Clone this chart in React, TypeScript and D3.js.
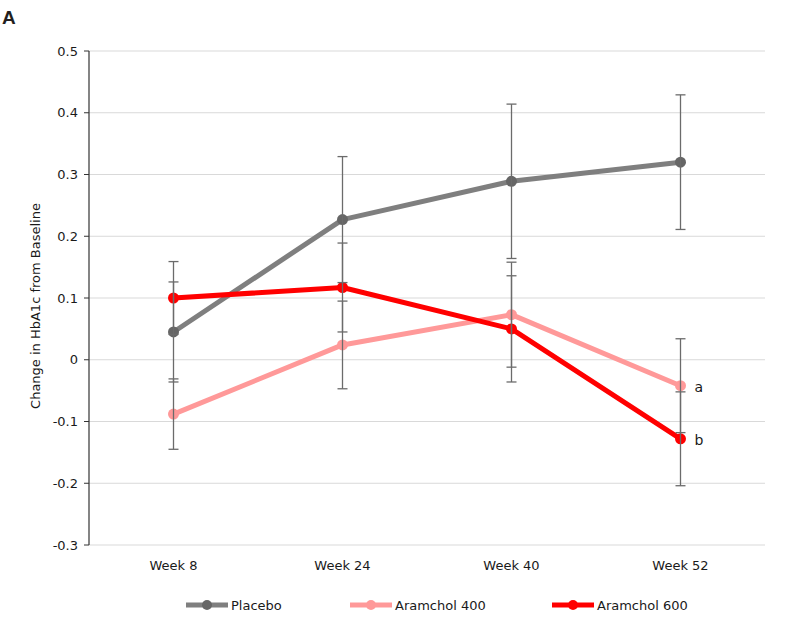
import React from "react";
import * as d3 from "d3";

const weeks = ["Week 8", "Week 24", "Week 40", "Week 52"];
const yTicks = [0.5, 0.4, 0.3, 0.2, 0.1, 0, -0.1, -0.2, -0.3];

const placebo = [0.045, 0.227, 0.289, 0.32];
const placeboErr = [0.081, 0.102, 0.125, 0.109];
const aram400 = [-0.088, 0.024, 0.073, -0.042];
const aram400Err = [0.057, 0.071, 0.085, 0.076];
const aram600 = [0.1, 0.117, 0.05, -0.128];
const aram600Err = [0.059, 0.072, 0.086, 0.076];

const seriesNames = ["Placebo", "Aramchol 400", "Aramchol 600"];
const lineColors = ["#7f7f7f", "#ff9999", "#ff0000"];
const markerColors = ["#666666", "#ff9999", "#ff0000"];
const notes = ["", "a", "b"];

const font = "Tahoma, 'DejaVu Sans', Verdana, sans-serif";

function App() {
  const width = 789;
  const height = 629;
  const left = 89;
  const right = 765;
  const top = 51;
  const bottom = 545;

  const x = d3.scalePoint<string>().domain(weeks).range([left, right]).padding(0.5);
  const y = d3.scaleLinear().domain([-0.3, 0.5]).range([bottom, top]);

  const values = [placebo, aram400, aram600];
  const errs = [placeboErr, aram400Err, aram600Err];

  const line = d3
    .line<number>()
    .x((d, i) => x(weeks[i]) as number)
    .y((d) => y(d));

  const legendX = [186, 350, 552];

  return (
    <svg width={width} height={height} style={{ position: "absolute", left: 0, top: 0 }} fontFamily={font}>
      <rect width={width} height={height} fill="#fff" />
      <text x={2} y={24} fontSize={19} fontWeight="bold" fill="#231f20" fontFamily="Arial, 'Liberation Sans', sans-serif">A</text>

      {yTicks.map((t) => (
        <g key={t}>
          <line x1={left} x2={right} y1={y(t)} y2={y(t)} stroke="#d9d9d9" strokeWidth={1} />
          <line x1={left - 5} x2={left} y1={y(t)} y2={y(t)} stroke="#333" strokeWidth={1} />
          <text x={78} y={y(t)} dy="0.35em" textAnchor="end" fontSize={13} fill="#1a1a1a">
            {String(t)}
          </text>
        </g>
      ))}
      <line x1={left} x2={left} y1={top} y2={bottom} stroke="#333" strokeWidth={1.2} />

      {weeks.map((w) => (
        <text key={w} x={x(w)} y={570} textAnchor="middle" fontSize={13} fill="#1a1a1a">
          {w}
        </text>
      ))}

      <text
        transform="translate(40,306) rotate(-90)"
        textAnchor="middle"
        fontSize={13}
        fill="#1a1a1a"
      >
        Change in HbA1c from Baseline
      </text>

      {values.map((vals, s) => (
        <g key={seriesNames[s]}>
          <path d={line(vals) || ""} fill="none" stroke={lineColors[s]} strokeWidth={5} strokeLinejoin="round" />
          {vals.map((v, i) => (
            <circle key={i} cx={x(weeks[i])} cy={y(v)} r={5.5} fill={markerColors[s]} />
          ))}
        </g>
      ))}

      {values.map((vals, s) =>
        vals.map((v, i) => {
          const cx = x(weeks[i]) as number;
          const hi = y(v + errs[s][i]);
          const lo = y(v - errs[s][i]);
          return (
            <g key={`${s}-${i}`} stroke="#6b6b6b" strokeWidth={1.3}>
              <line x1={cx} x2={cx} y1={hi} y2={lo} />
              <line x1={cx - 5} x2={cx + 5} y1={hi} y2={hi} />
              <line x1={cx - 5} x2={cx + 5} y1={lo} y2={lo} />
            </g>
          );
        })
      )}

      {values.map((vals, s) =>
        notes[s] ? (
          <text
            key={notes[s]}
            x={(x(weeks[3]) as number) + 14}
            y={y(vals[3])}
            dy="0.45em"
            fontSize={14}
            fill="#1a1a1a"
          >
            {notes[s]}
          </text>
        ) : null
      )}

      {seriesNames.map((n, s) => (
        <g key={n}>
          <line x1={legendX[s]} x2={legendX[s] + 42} y1={605} y2={605} stroke={lineColors[s]} strokeWidth={5} />
          <circle cx={legendX[s] + 21} cy={605} r={5} fill={markerColors[s]} />
          <text x={legendX[s] + 45} y={605} dy="0.35em" fontSize={13} fill="#1a1a1a">
            {n}
          </text>
        </g>
      ))}
    </svg>
  );
}

export default App;
